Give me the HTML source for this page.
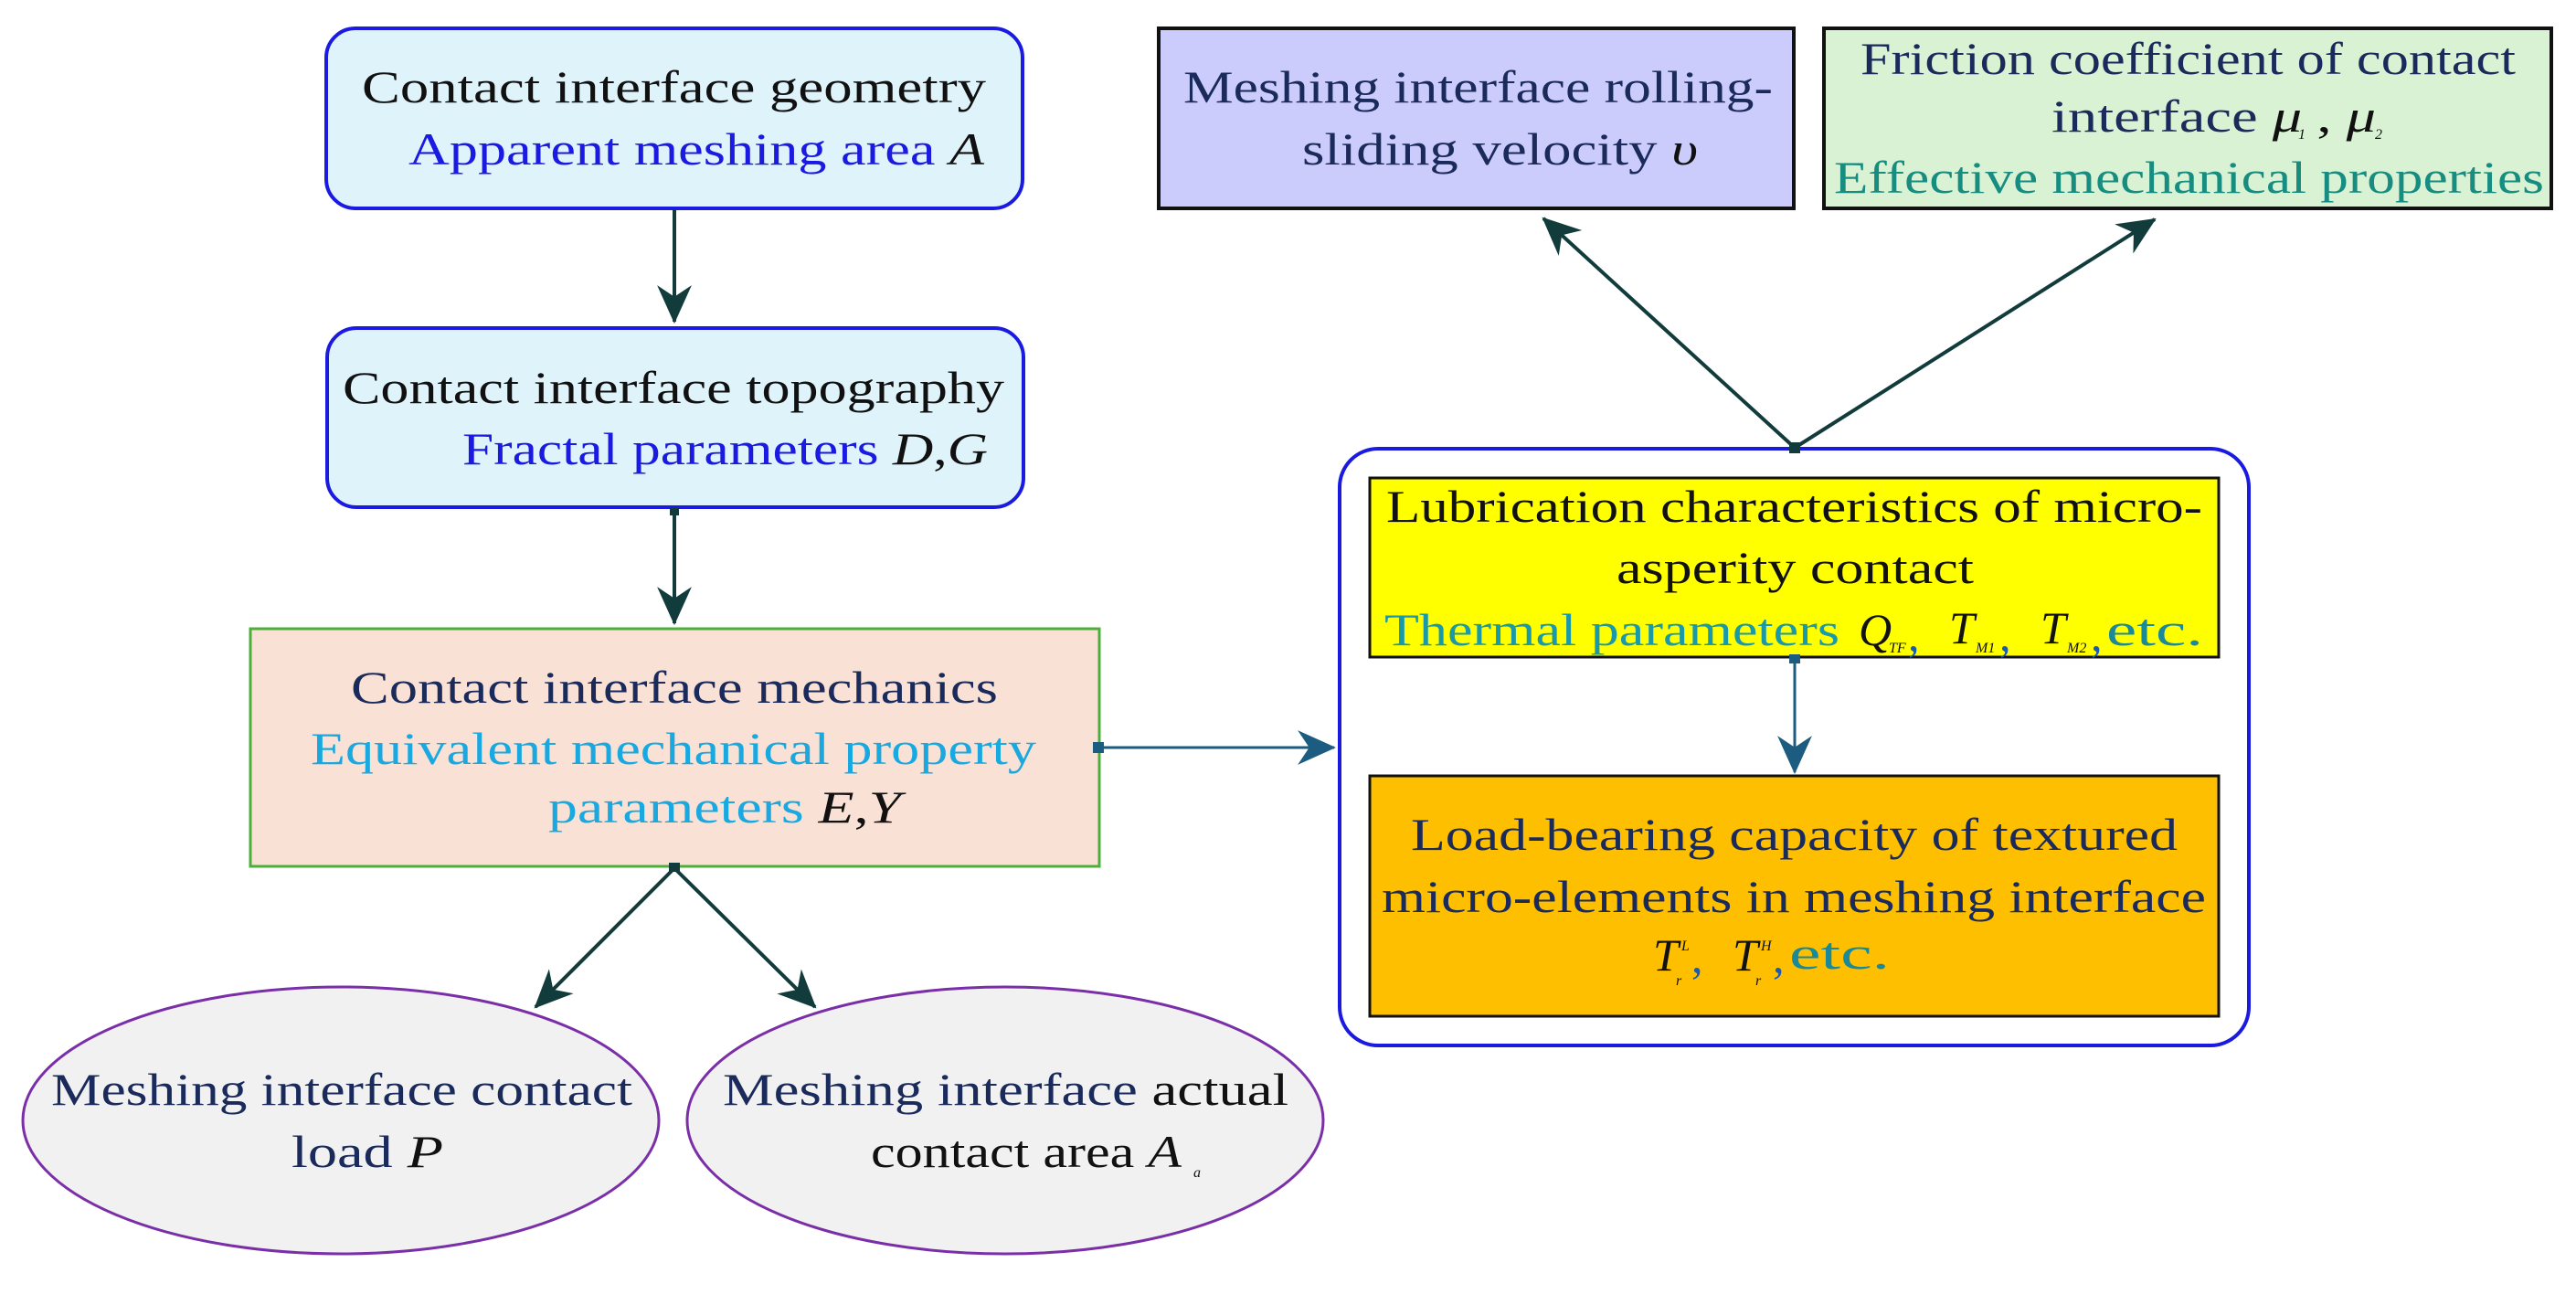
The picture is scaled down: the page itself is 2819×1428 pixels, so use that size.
<!DOCTYPE html>
<html><head><meta charset="utf-8"><style>
html,body{margin:0;padding:0;background:#fff;width:2819px;height:1428px;overflow:hidden}
svg{display:block}
text{font-family:"Liberation Serif",serif;font-size:50px}
.i{font-style:italic;fill:#111}
.s{font-size:16px;font-style:italic;fill:#111}
</style></head><body>
<svg width="2819" height="1428" viewBox="0 0 2819 1428" xmlns="http://www.w3.org/2000/svg">
<defs>
<marker id="a" viewBox="0 0 40 40" refX="38" refY="20" markerWidth="42" markerHeight="42" markerUnits="userSpaceOnUse" orient="auto"><path d="M0,2 L40,20 L0,38 L12,20 z" fill="#123c3c"/></marker>
<marker id="b" viewBox="0 0 40 40" refX="38" refY="20" markerWidth="42" markerHeight="42" markerUnits="userSpaceOnUse" orient="auto"><path d="M0,2 L40,20 L0,38 L12,20 z" fill="#1b5c80"/></marker>
</defs>

<rect x="357" y="31" width="762" height="197" rx="32" fill="#dff3fb" stroke="#1a1ae0" stroke-width="4"/>
<text x="396" y="112" textLength="683" lengthAdjust="spacingAndGlyphs" fill="#111">Contact interface  geometry</text>
<text x="447" y="180" textLength="630" lengthAdjust="spacingAndGlyphs"><tspan fill="#1a1ae0">Apparent meshing area </tspan><tspan class="i">A</tspan></text>

<rect x="358" y="359" width="762" height="196" rx="32" fill="#dff3fb" stroke="#1a1ae0" stroke-width="4"/>
<text x="375" y="441" textLength="724" lengthAdjust="spacingAndGlyphs" fill="#111">Contact interface topography</text>
<text x="506" y="508" textLength="575" lengthAdjust="spacingAndGlyphs"><tspan fill="#1a1ae0">Fractal parameters </tspan><tspan class="i">D</tspan><tspan fill="#111">,</tspan><tspan class="i">G</tspan></text>

<rect x="274" y="688" width="929" height="260" fill="#fae1d5" stroke="#4caf3a" stroke-width="3"/>
<text x="384" y="769" textLength="708" lengthAdjust="spacingAndGlyphs" fill="#1a2a5a">Contact interface  mechanics</text>
<text x="340" y="836" textLength="794" lengthAdjust="spacingAndGlyphs" fill="#1aa8e0">Equivalent mechanical property</text>
<text x="600" y="900" textLength="386" lengthAdjust="spacingAndGlyphs"><tspan fill="#1aa8e0">parameters  </tspan><tspan class="i">E</tspan><tspan fill="#111">,</tspan><tspan class="i">Y</tspan></text>

<ellipse cx="373" cy="1226" rx="348" ry="146" fill="#f1f1f1" stroke="#7a2fa8" stroke-width="3"/>
<text x="56" y="1209" textLength="636" lengthAdjust="spacingAndGlyphs" fill="#1a2a5a">Meshing interface contact</text>
<text x="319" y="1277" textLength="166" lengthAdjust="spacingAndGlyphs"><tspan fill="#1a2a5a">load  </tspan><tspan class="i">P</tspan></text>

<ellipse cx="1100" cy="1226" rx="348" ry="146" fill="#f1f1f1" stroke="#7a2fa8" stroke-width="3"/>
<text x="791" y="1209" textLength="619" lengthAdjust="spacingAndGlyphs"><tspan fill="#1a2a5a">Meshing interface  </tspan><tspan fill="#111">actual</tspan></text>
<text x="953" y="1277" textLength="340" lengthAdjust="spacingAndGlyphs"><tspan fill="#111">contact area </tspan><tspan class="i">A</tspan></text>
<text x="1306" y="1288" class="s" font-size="12">a</text>

<line x1="738" y1="229" x2="738" y2="352" stroke="#123c3c" stroke-width="4" marker-end="url(#a)"/>
<rect x="733" y="556" width="10" height="8" fill="#123c3c"/>
<line x1="738" y1="558" x2="738" y2="682" stroke="#123c3c" stroke-width="4" marker-end="url(#a)"/>
<rect x="732" y="944" width="12" height="10" fill="#123c3c"/>
<line x1="738" y1="950" x2="586" y2="1102" stroke="#123c3c" stroke-width="4" marker-end="url(#a)"/>
<line x1="738" y1="950" x2="892" y2="1102" stroke="#123c3c" stroke-width="4" marker-end="url(#a)"/>
<rect x="1196" y="812" width="12" height="12" fill="#1b5c80"/>
<line x1="1202" y1="818" x2="1460" y2="818" stroke="#1b5c80" stroke-width="3" marker-end="url(#b)"/>

<rect x="1268" y="31" width="695" height="197" fill="#ccccfc" stroke="#111" stroke-width="4"/>
<text x="1295" y="112" textLength="645" lengthAdjust="spacingAndGlyphs" fill="#1a2a5a">Meshing interface rolling-</text>
<text x="1425" y="180" textLength="433" lengthAdjust="spacingAndGlyphs"><tspan fill="#1a2a5a">sliding velocity  </tspan><tspan class="i">υ</tspan></text>

<rect x="1996" y="31" width="796" height="197" fill="#d9f2d4" stroke="#111" stroke-width="4"/>
<text x="2036" y="81" textLength="717" lengthAdjust="spacingAndGlyphs" fill="#1a2a5a">Friction coefficient of contact</text>
<text x="2245" y="144" textLength="355" lengthAdjust="spacingAndGlyphs"><tspan fill="#1a2a5a">interface  </tspan><tspan class="i">μ</tspan><tspan fill="#111">  ,  </tspan><tspan class="i">μ</tspan></text>
<text x="2515" y="152" class="s" font-size="11">1</text>
<text x="2599" y="152" class="s" font-size="11">2</text>
<text x="2007" y="211" textLength="777" lengthAdjust="spacingAndGlyphs" fill="#178c80">Effective mechanical properties</text>

<rect x="1466" y="491" width="995" height="653" rx="42" fill="none" stroke="#1a1ae0" stroke-width="4"/>
<rect x="1499" y="523" width="929" height="196" fill="#ffff00" stroke="#111" stroke-width="3"/>
<text x="1517" y="571" textLength="893" lengthAdjust="spacingAndGlyphs" fill="#111">Lubrication characteristics of micro-</text>
<text x="1769" y="638" textLength="391" lengthAdjust="spacingAndGlyphs" fill="#111">asperity contact</text>
<text x="1515" y="706" textLength="498" lengthAdjust="spacingAndGlyphs" fill="#1a9aa8">Thermal parameters</text>
<text x="2034" y="706" class="i">Q</text><text x="2067" y="714" class="s" font-size="11">TF</text><text x="2088" y="712" fill="#1a5ab0" font-size="30">,</text>
<text x="2133" y="704" class="i">T</text><text x="2162" y="714" class="s" font-size="11">M1</text><text x="2188" y="712" fill="#1a5ab0" font-size="30">,</text>
<text x="2233" y="704" class="i">T</text><text x="2262" y="714" class="s" font-size="11">M2</text><text x="2288" y="712" fill="#1a5ab0" font-size="30">,</text>
<text x="2305" y="706" textLength="106" lengthAdjust="spacingAndGlyphs" fill="#1a8a9a">etc.</text>

<rect x="1499" y="849" width="929" height="263" fill="#fdbf00" stroke="#111" stroke-width="3"/>
<text x="1544" y="930" textLength="839" lengthAdjust="spacingAndGlyphs" fill="#1a2a5a">Load-bearing capacity of textured</text>
<text x="1512" y="998" textLength="902" lengthAdjust="spacingAndGlyphs" fill="#1a2a5a">micro-elements in meshing interface</text>
<text x="1809" y="1062" class="i">T</text><text x="1840" y="1040" class="s" font-size="11">L</text><text x="1834" y="1078" class="s" font-size="11">r</text><text x="1851" y="1064" fill="#1a5ab0" font-size="30">,</text>
<text x="1896" y="1062" class="i">T</text><text x="1927" y="1040" class="s" font-size="11">H</text><text x="1921" y="1078" class="s" font-size="11">r</text><text x="1940" y="1064" fill="#1a5ab0" font-size="30">,</text>
<text x="1958" y="1060" textLength="110" lengthAdjust="spacingAndGlyphs" fill="#1a8a9a">etc.</text>

<rect x="1958" y="716" width="12" height="10" fill="#1b5c80"/>
<line x1="1964" y1="720" x2="1964" y2="845" stroke="#1b5c80" stroke-width="3" marker-end="url(#b)"/>

<rect x="1958" y="484" width="12" height="12" fill="#123c3c"/>
<line x1="1964" y1="490" x2="1689" y2="239" stroke="#123c3c" stroke-width="4" marker-end="url(#a)"/>
<line x1="1964" y1="490" x2="2358" y2="240" stroke="#123c3c" stroke-width="4" marker-end="url(#a)"/>
</svg>
</body></html>
